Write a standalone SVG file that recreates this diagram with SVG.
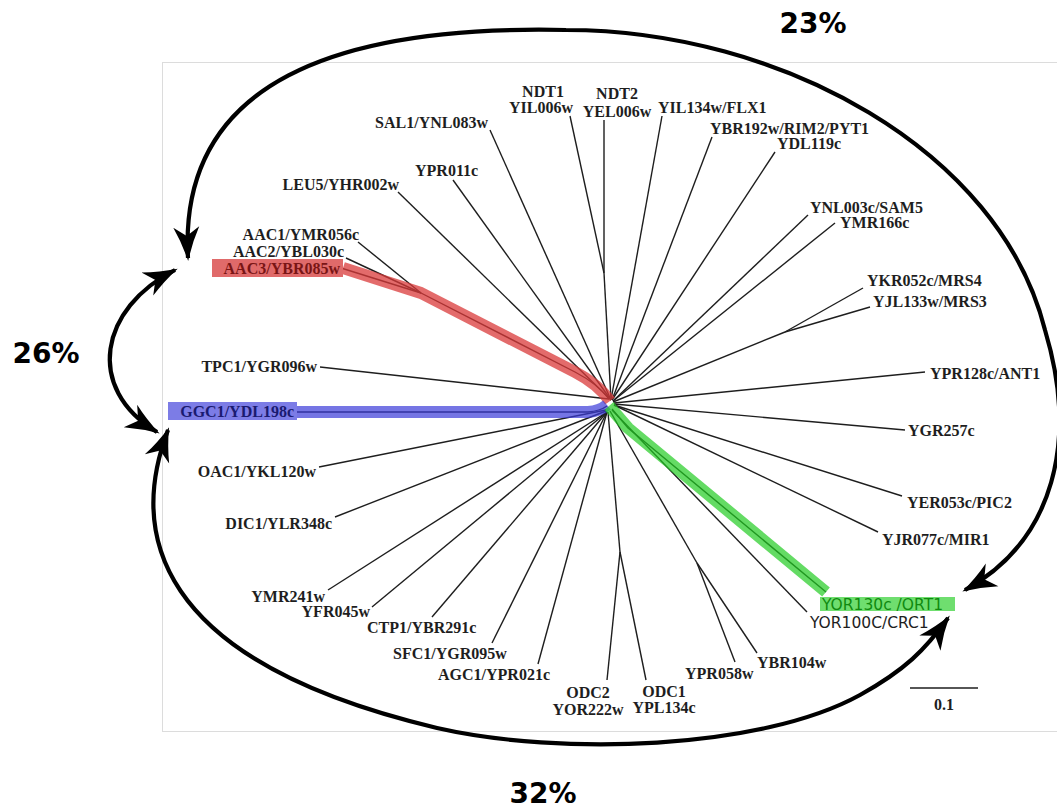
<svg xmlns="http://www.w3.org/2000/svg" width="1057" height="809" viewBox="0 0 1057 809">
<style>
.lb{font-family:"Liberation Serif","Times New Roman",serif;font-weight:bold;font-size:16px;fill:#1e1e1e}
.sn{font-family:"DejaVu Sans",sans-serif;font-size:15.5px;fill:#1e1e1e}
.pc{font-family:"DejaVu Sans",sans-serif;font-weight:bold;font-size:28px;fill:#000}
.br{stroke:#1e1e1e;stroke-width:1.4;fill:none}
.hl{fill:none;stroke-width:12;stroke-linejoin:round}
.arw{fill:none;stroke:#000;stroke-width:4.2;marker-end:url(#ah);marker-start:url(#ah)}
</style>
<defs>
<marker id="ah" markerUnits="userSpaceOnUse" markerWidth="34" markerHeight="28" viewBox="0 0 34 28" refX="31" refY="14" orient="auto-start-reverse">
<path d="M0,1 Q16,9 34,14 Q16,19 0,27 L9,14 Z" fill="#000"/>
</marker>
</defs>
<rect x="162.5" y="62.5" width="900" height="669" fill="#fff" stroke="#dcdcdc" stroke-width="1"/>

<g id="connectors">
<g class="br">
<path d="M490,130 L611,400"/>
<path d="M453,180 L611,400"/>
<path d="M398,192 L611,400"/>
<path d="M358,242 L421,293"/>
<path d="M346,258 L421,293"/>
<path d="M341,268 L421,293"/>
<path d="M421,293 L575,372 Q598,384 609,399"/>
<path d="M570,116 L604,273"/>
<path d="M604,120 L604,273"/>
<path d="M604,273 L611,400"/>
<path d="M662,116 L611,400"/>
<path d="M712,137 L612,400"/>
<path d="M775,152 L612,400"/>
<path d="M808,215 L613,401"/>
<path d="M835,223 L613,401"/>
<path d="M863,288 L785,332"/>
<path d="M870,307 L785,332"/>
<path d="M785,332 L613,402"/>
<path d="M320,367 L609,399"/>
<path d="M925,372 L614,403"/>
<path d="M905,430 L614,404"/>
<path d="M902,496 L614,405"/>
<path d="M878,532 L614,405"/>
<path d="M807,612 L612,410"/>
<path d="M826,592 L628,428 L612,409"/>
<path d="M757,653 L697,563"/>
<path d="M735,662 L697,563"/>
<path d="M697,563 L610,411"/>
<path d="M646,680 L620,552"/>
<path d="M607,680 L620,552"/>
<path d="M620,552 L608,412"/>
<path d="M538,664 L607,412"/>
<path d="M492,643 L607,412"/>
<path d="M432,617 L607,412"/>
<path d="M372,607 L607,412"/>
<path d="M328,590 L607,412"/>
<path d="M335,517 L606,411"/>
<path d="M319,467 L606,410"/>
<path d="M296,412 L588,412 Q600,411 607,406"/>
</g>
<path class="hl" d="M343,268 L421,293 L575,372 Q598,384 610,401" stroke="#d93a3a" stroke-opacity="0.75"/>
<path class="hl" d="M296,412 L588,412 Q600,411 607,405" stroke="#3a3ad8" stroke-opacity="0.7"/>
<path class="hl" d="M609,406 L628,428 L826,592" stroke="#22cc22" stroke-opacity="0.7"/>
<path class="arw" d="M188,258 C178,80 340,25 566,30 C780,30 1000,150 1045,330 C1078,440 1055,540 965,590"/>
<path class="arw" d="M175,270 C100,308 84,388 157,432"/>
<path class="arw" d="M168,430 C130,530 150,660 437,728 C560,756 760,750 860,695 C905,670 925,650 948,618"/>
<path d="M910,688 L978,688" stroke="#1e1e1e" stroke-width="1.4"/>
</g>

<g id="n-sal1"><text class="lb" x="488" y="128" text-anchor="end">SAL1/YNL083w</text></g>
<g id="n-ypr011c"><text class="lb" x="415" y="176">YPR011c</text></g>
<g id="n-leu5"><text class="lb" x="399" y="190" text-anchor="end">LEU5/YHR002w</text></g>
<g id="n-aac1"><text class="lb" x="359" y="240" text-anchor="end">AAC1/YMR056c</text></g>
<g id="n-aac2"><text class="lb" x="344" y="257" text-anchor="end">AAC2/YBL030c</text></g>
<g id="n-aac3"><rect x="212" y="259" width="131" height="18" fill="#e06a6a"/><text class="lb" x="340" y="274" text-anchor="end" style="fill:#7a1515">AAC3/YBR085w</text></g>
<g id="n-tpc1"><text class="lb" x="317" y="372" text-anchor="end">TPC1/YGR096w</text></g>
<g id="n-ggc1"><rect x="168" y="402" width="129" height="18" fill="#7c7ce6"/><text class="lb" x="294" y="417" text-anchor="end" style="fill:#1a1a70">GGC1/YDL198c</text></g>
<g id="n-oac1"><text class="lb" x="316" y="477" text-anchor="end">OAC1/YKL120w</text></g>
<g id="n-dic1"><text class="lb" x="332" y="529" text-anchor="end">DIC1/YLR348c</text></g>
<g id="n-ymr241w"><text class="lb" x="325" y="602" text-anchor="end">YMR241w</text></g>
<g id="n-yfr045w"><text class="lb" x="370" y="617" text-anchor="end">YFR045w</text></g>
<g id="n-ctp1"><text class="lb" x="367" y="633">CTP1/YBR291c</text></g>
<g id="n-sfc1"><text class="lb" x="393" y="659">SFC1/YGR095w</text></g>
<g id="n-agc1"><text class="lb" x="438" y="680">AGC1/YPR021c</text></g>
<g id="n-odc2"><text class="lb" x="588" y="698" text-anchor="middle">ODC2</text><text class="lb" x="588" y="715" text-anchor="middle">YOR222w</text></g>
<g id="n-odc1"><text class="lb" x="664" y="697" text-anchor="middle">ODC1</text><text class="lb" x="664" y="713" text-anchor="middle">YPL134c</text></g>
<g id="n-ypr058w"><text class="lb" x="685" y="679">YPR058w</text></g>
<g id="n-ybr104w"><text class="lb" x="757" y="668">YBR104w</text></g>
<g id="n-ort1"><rect x="820" y="597" width="135" height="14" fill="#6fde6f"/><text class="sn" x="822" y="610" style="fill:#108a10">YOR130c /ORT1</text></g>
<g id="n-crc1"><text class="sn" x="810" y="628">YOR100C/CRC1</text></g>
<g id="n-mir1"><text class="lb" x="882" y="545">YJR077c/MIR1</text></g>
<g id="n-pic2"><text class="lb" x="907" y="508">YER053c/PIC2</text></g>
<g id="n-ygr257c"><text class="lb" x="908" y="436">YGR257c</text></g>
<g id="n-ant1"><text class="lb" x="930" y="379">YPR128c/ANT1</text></g>
<g id="n-mrs3"><text class="lb" x="873" y="307">YJL133w/MRS3</text></g>
<g id="n-mrs4"><text class="lb" x="867" y="286">YKR052c/MRS4</text></g>
<g id="n-ymr166c"><text class="lb" x="840" y="228">YMR166c</text></g>
<g id="n-sam5"><text class="lb" x="810" y="213">YNL003c/SAM5</text></g>
<g id="n-ydl119c"><text class="lb" x="777" y="149">YDL119c</text></g>
<g id="n-rim2"><text class="lb" x="710" y="134">YBR192w/RIM2/PYT1</text></g>
<g id="n-flx1"><text class="lb" x="658" y="113">YIL134w/FLX1</text></g>
<g id="n-ndt2"><text class="lb" x="617" y="99" text-anchor="middle">NDT2</text><text class="lb" x="617" y="117" text-anchor="middle">YEL006w</text></g>
<g id="n-ndt1"><text class="lb" x="543" y="97" text-anchor="middle">NDT1</text><text class="lb" x="541" y="113" text-anchor="middle">YIL006w</text></g>
<g id="scale"><text class="lb" x="944" y="710" text-anchor="middle">0.1</text></g>
<g id="pct23"><text class="pc" x="813" y="33" text-anchor="middle">23%</text></g>
<g id="pct26"><text class="pc" x="46" y="363" text-anchor="middle">26%</text></g>
<g id="pct32"><text class="pc" x="543" y="803" text-anchor="middle">32%</text></g>
</svg>
